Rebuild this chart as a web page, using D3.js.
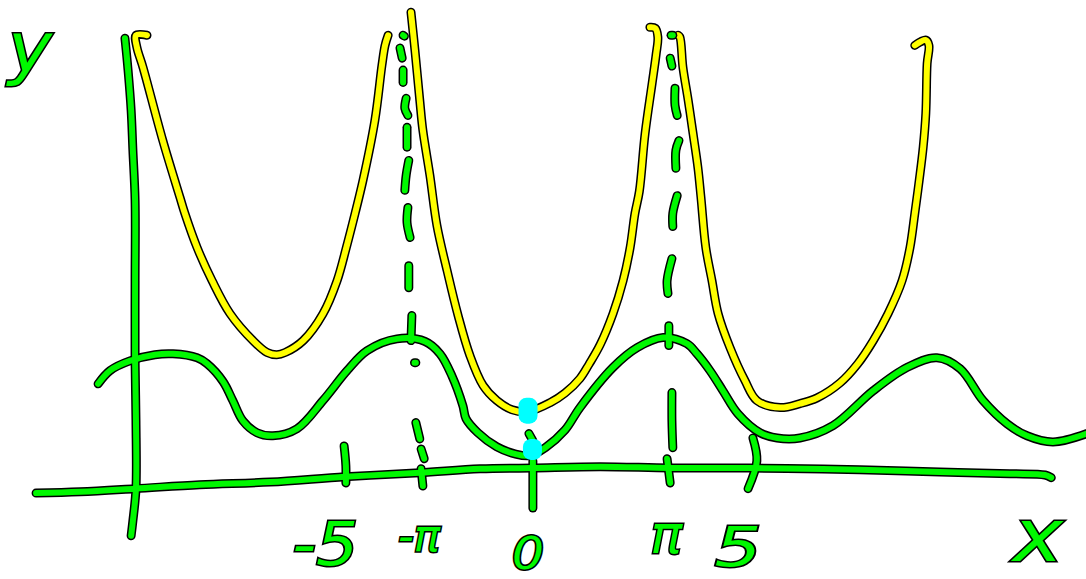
<!DOCTYPE html>
<html><head><meta charset="utf-8">
<script src="https://cdn.jsdelivr.net/npm/d3@7/dist/d3.min.js"></script>
<style>html,body{margin:0;padding:0;background:#fff}svg{display:block}</style>
</head><body><svg id="c" width="1086" height="579"></svg>
<script>
const xAxisStroke=[[-11.27,-.55],[-10.27,-.52],[-9.02,-.45],[-7.55,-.36],[-5.95,-.30],[-4.25,-.18],[-2.55,-.09],[-1.18,0],[0,.02],[1.55,.05],[3.14,.02],[4.95,.02],[6.2,0],[7.45,-.02],[9.27,-.07],[10.86,-.11],[11.66,-.14],[11.8,-.2]];
const yAxisStroke=[[-9.25,9.77],[-9.18,9.05],[-9.11,8.14],[-9.07,7.23],[-9.02,6.09],[-9.02,4.27],[-9.02,2.45],[-9,1.09],[-9,-.45],[-9.07,-1.18],[-9.11,-1.52]];
const tickStrokes=[
 [[-4.27,.52],[-4.23,.07],[-4.23,-.32]],
 [[-2.52,0],[-2.48,-.39]],
 [[3.07,.23],[3.14,-.32]],
 [[5.02,.70],[5.11,.18],[4.91,-.45]],
 [[.02,.18],[.02,-.89]]
];
const dashesNegPi=[
 [[-2.93,9.84],[-2.9,9.82]],
 [[-3.0,9.55],[-2.95,9.32]],
 [[-2.93,9.05],[-2.93,8.77]],
 [[-2.86,8.41],[-2.89,8.18],[-2.82,8.02]],
 [[-2.84,7.75],[-2.84,7.30]],
 [[-2.80,7.0],[-2.86,6.66],[-2.89,6.32]],
 [[-2.82,5.93],[-2.84,5.59],[-2.77,5.25]],
 [[-2.80,4.61],[-2.80,4.11]],
 [[-2.73,3.48],[-2.75,2.91]],
 [[-2.67,2.41],[-2.64,2.41]],
 [[-2.64,1.05],[-2.55,.68]],
 [[-2.52,.45],[-2.45,.23]]
];
const dashesPi=[
 [[3.16,9.84],[3.2,9.84]],
 [[3.14,9.32],[3.18,9.14]],
 [[3.25,8.64],[3.25,8.25],[3.30,8.02]],
 [[3.34,7.45],[3.27,7.23],[3.27,6.82]],
 [[3.30,6.2],[3.2,5.8],[3.2,5.5]],
 [[3.18,4.77],[3.07,4.27],[3.09,3.98]],
 [[3.11,3.25],[3.11,2.80]],
 [[3.18,1.73],[3.18,1.09],[3.2,.48]]
];
const dashZero=[[-.07,.80],[.02,.64]];
const waveCurve=[[-9.86,1.93],[-9.59,2.23],[-9.14,2.45],[-8.57,2.59],[-8.16,2.61],[-7.61,2.52],[-7.39,2.39],[-7.02,1.98],[-6.8,1.55],[-6.57,1.09],[-6.25,.82],[-5.89,.75],[-5.34,.91],[-4.75,1.55],[-4.20,2.23],[-3.75,2.68],[-3.07,2.95],[-2.43,2.89],[-2.09,2.61],[-1.82,2.11],[-1.57,1.43],[-1.5,1.14],[-1.23,.82],[-.80,.5],[-.39,.34],[-.05,.30],[.30,.48],[.75,.88],[1.09,1.39],[1.84,2.30],[2.39,2.75],[2.98,2.98],[3.52,2.84],[3.75,2.61],[4.05,2.22],[4.34,1.77],[4.68,1.25],[5.18,.82],[5.57,.70],[6.09,.70],[6.84,.98],[7.75,1.77],[8.52,2.30],[9.2,2.52],[9.73,2.27],[10.25,1.55],[10.8,1.02],[11.25,.75],[11.84,.61],[12.61,.80]];
const yellowLeft=[[-8.75,9.84],[-9.0,9.84],[-8.98,9.57],[-8.84,9.11],[-8.39,7.45],[-8.0,6.16],[-7.89,5.80],[-7.61,5.02],[-7.27,4.27],[-6.86,3.52],[-6.34,2.91],[-6.02,2.64],[-5.8,2.59],[-5.61,2.64],[-5.2,2.91],[-4.75,3.52],[-4.43,4.27],[-4.22,5.02],[-4.02,5.80],[-3.84,6.55],[-3.57,7.91],[-3.41,9.16],[-3.34,9.61],[-3.27,9.84]];
const yellowMiddle=[[-2.75,10.36],[-2.66,9.5],[-2.55,8.36],[-2.48,7.68],[-2.32,6.66],[-2.16,5.52],[-1.93,4.5],[-1.68,3.48],[-1.41,2.57],[-1.11,1.89],[-.80,1.55],[-.45,1.34],[-.09,1.30],[.41,1.5],[.75,1.72],[1.09,2.05],[1.3,2.38],[1.55,2.82],[1.84,3.52],[2.07,4.27],[2.23,5.02],[2.34,5.80],[2.44,6.3],[2.57,7.61],[2.73,8.75],[2.82,9.4],[2.86,9.80],[2.80,10.0],[2.68,10.02]];
const yellowRight=[[3.32,9.84],[3.36,9.80],[3.43,9.11],[3.55,8.36],[3.66,7.61],[3.77,6.84],[3.84,6.16],[3.95,5.02],[4.09,4.27],[4.23,3.52],[4.5,2.75],[4.84,2.0],[5.11,1.55],[5.64,1.39],[6.09,1.48],[6.48,1.61],[7.0,1.95],[7.4,2.38],[7.75,2.9],[8.09,3.52],[8.41,4.27],[8.59,5.02],[8.70,5.80],[8.80,6.55],[8.89,7.30],[8.95,8.07],[8.98,9.2],[9.02,9.61],[8.95,9.73],[8.70,9.61]];
const cyanX=[-.09,.01];
const cyanY=[1.32,.44];
const cyanW=[19,19];
const cyanH=[26,21];
const tickLabels=["-5","-π","0","π","5"];
const tickValues=[-4.70,-2.57,-.09,3.05,4.68];
const tickDrops=[2.18,1.86,2.27,1.91,2.2];
const tickSizes=[60,44,44,54,56];
const tickWidths=[66,42,32,32,47];

const W=1086,H=579;
const x=d3.scaleLinear().domain([-12.09,12.59]).range([0,W]);
const y=d3.scaleLinear().domain([-2.5,10.64]).range([H,0]);
const line=d3.line().x(d=>x(d[0])).y(d=>y(d[1])).curve(d3.curveCatmullRom.alpha(.5));
const svg=d3.select("#c");
const green="#00f800",yellow="#ffff00",cyan="#00ffff",black="#000";
const greens=[xAxisStroke,yAxisStroke,...tickStrokes,...dashesNegPi,...dashesPi,dashZero,waveCurve];
const yellows=[yellowLeft,yellowMiddle,yellowRight];
function layer(data,col,w){
 svg.append("g").attr("fill","none").attr("stroke",col).attr("stroke-width",w)
  .attr("stroke-linecap","round").attr("stroke-linejoin","round")
  .selectAll("path").data(data).join("path").attr("d",line);
}
layer(yellows,black,9);layer(yellows,yellow,6);
layer(greens,black,9);layer(greens,green,6);
svg.append("g").selectAll("rect").data(cyanX).join("rect")
 .attr("x",(d,i)=>x(d)-cyanW[i]/2).attr("y",(d,i)=>y(cyanY[i])-cyanH[i]/2)
 .attr("width",(d,i)=>cyanW[i]).attr("height",(d,i)=>cyanH[i]).attr("rx",8).attr("fill",cyan);
function label(t,px,py,size,len){
 svg.append("text").text(t).attr("x",px).attr("y",py).attr("text-anchor","middle")
  .attr("font-family","DejaVu Sans").attr("font-style","oblique").attr("font-size",size)
  .attr("textLength",len).attr("lengthAdjust","spacingAndGlyphs")
  .attr("fill",green).attr("stroke",black).attr("stroke-width",3).attr("paint-order","stroke");
}
tickLabels.forEach((t,i)=>label(t,x(tickValues[i]),y(-tickDrops[i]),tickSizes[i],tickWidths[i]));
label("y",x(-11.41),y(9.0),70,44);
label("x",x(11.5),y(-2.09),73,50);
</script></body></html>
